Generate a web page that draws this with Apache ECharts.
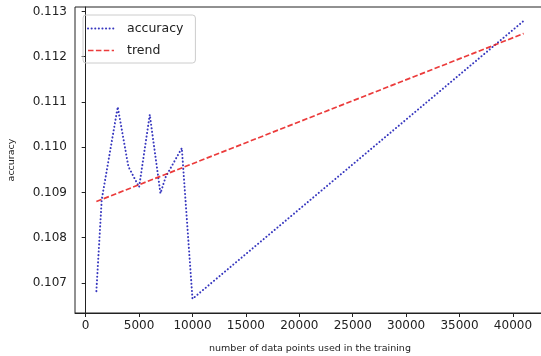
<!DOCTYPE html>
<html>
<head>
<meta charset="utf-8">
<script src="https://cdn.jsdelivr.net/npm/echarts@6/dist/echarts.min.js"></script>
<style>html,body{margin:0;padding:0;background:#fff;overflow:hidden;width:541px;height:356px;}#c{width:551px;height:356px;}</style>
</head>
<body>
<div id="c"></div>
<script>
const accX = [1000, 1500, 3000, 4000, 5000, 6000, 7000, 7500, 9000, 10000, 41000];
const accY = [0.10682, 0.10884, 0.11089, 0.10957, 0.10912, 0.11072, 0.10898, 0.10935, 0.10998, 0.10665, 0.11279];
const trendX = [1000, 41000];
const trendY = [0.10880, 0.11251];
const xTicks = [0, 5000, 10000, 15000, 20000, 25000, 30000, 35000, 40000];
const yTicks = [0.107, 0.108, 0.109, 0.110, 0.111, 0.112, 0.113];

const chart = echarts.init(document.getElementById('c'), null, {renderer: 'canvas'});
const font = 'DejaVu Sans';
const blue = 'rgba(20,20,180,0.85)';
const red = 'rgba(232,25,25,0.85)';
chart.setOption({
  animation: false,
  backgroundColor: '#fff',
  grid: {left: 75, right: 6, top: 7, bottom: 43, outerBoundsMode: 'none', containLabel: false,
    show: true, borderColor: '#222', borderWidth: 1, backgroundColor: 'transparent'},
  legend: {
    left: 83, top: 15, orient: 'vertical', itemWidth: 26, itemHeight: 10, itemGap: 9,
    padding: [7, 12, 6, 4],
    borderColor: '#ccc', borderWidth: 1, borderRadius: 3,
    itemStyle: {opacity: 0},
    textStyle: {fontFamily: font, fontSize: 12.5, color: '#222', padding: [0, 0, 0, 8]},
    data: [
      {name: 'accuracy', lineStyle: {color: blue, width: 2, type: [0.1, 3.5], cap: 'round'}},
      {name: 'trend', lineStyle: {color: red, width: 1.7, type: [5.5, 2.4]}}
    ]
  },
  xAxis: {
    type: 'value', min: -1000, max: 43000,
    name: 'number of data points used in the training', nameLocation: 'middle', nameGap: 31,
    nameTextStyle: {fontFamily: font, fontSize: 9.5, color: '#222'},
    axisLine: {show: true, onZero: false, lineStyle: {color: '#222'}},
    axisTick: {show: true, inside: false, length: 4, lineStyle: {color: '#222'}, customValues: xTicks},
    axisLabel: {fontFamily: font, fontSize: 12, color: '#222', margin: 7, customValues: xTicks,
      formatter: v => String(Math.round(v))},
    splitLine: {show: false}
  },
  yAxis: {
    type: 'value', min: 0.106337, max: 0.113097,
    name: 'accuracy', nameLocation: 'middle', nameGap: 58, nameRotate: 90,
    nameTextStyle: {fontFamily: font, fontSize: 9.5, color: '#222'},
    axisLine: {show: true, lineStyle: {color: '#222'}},
    axisTick: {show: true, inside: false, length: 4, lineStyle: {color: '#222'}, customValues: yTicks},
    axisLabel: {fontFamily: font, fontSize: 12, color: '#222', margin: 8, customValues: yTicks,
      formatter: v => v.toFixed(3)},
    splitLine: {show: false}
  },
  series: [
    {
      name: 'accuracy', type: 'line', symbol: 'none',
      data: accX.map((x, i) => [x, accY[i]]),
      lineStyle: {color: blue, width: 2, type: [0.1, 3.5], cap: 'round'},
      itemStyle: {color: blue}
    },
    {
      name: 'trend', type: 'line', symbol: 'none',
      data: trendX.map((x, i) => [x, trendY[i]]),
      lineStyle: {color: red, width: 1.7, type: [5.5, 2.4]},
      itemStyle: {color: red}
    }
  ]
});
</script>
</body>
</html>
